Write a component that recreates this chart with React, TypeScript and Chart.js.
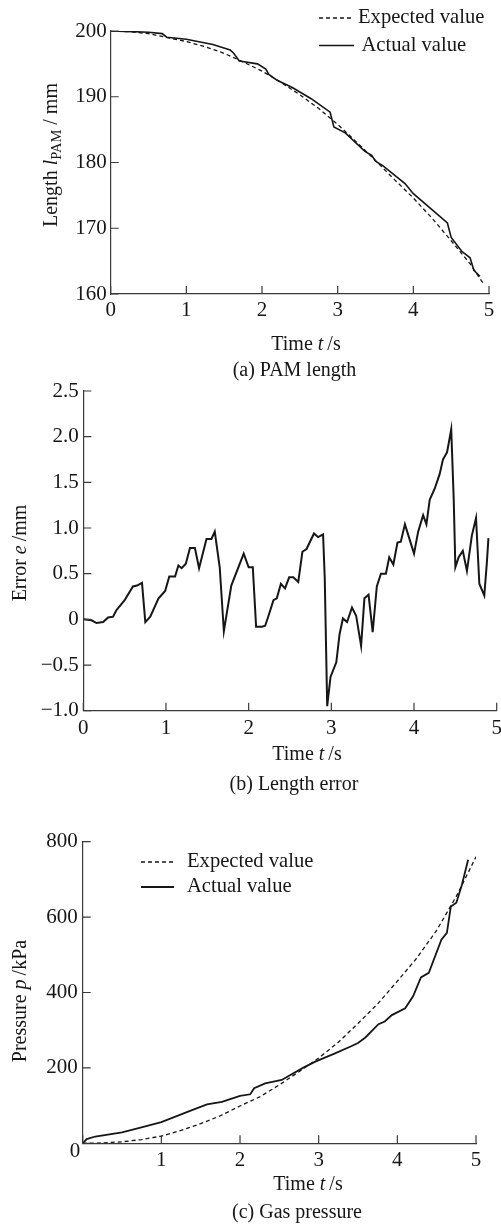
import React, { useEffect, useRef } from "react";
import { Chart, registerables } from "chart.js";

Chart.register(...registerables);

const W = 501;
const SERIF = '"Liberation Serif", "Times New Roman", Times, serif';
const INK = "#161616";
const AXIS = "#3a3a3a";

// ---------- (a) PAM length ----------
const lenExpT = [0, 0.25, 0.5, 0.75, 1.0, 1.25, 1.5, 1.75, 2.0, 2.25, 2.5, 2.75, 3.0, 3.25, 3.5, 3.75, 4.0, 4.25, 4.5, 4.75, 4.93];
const lenExpV = [200.0, 199.9, 199.6, 199.0, 198.4, 197.6, 196.6, 195.3, 193.9, 192.2, 190.3, 188.2, 185.8, 183.1, 180.3, 177.4, 174.6, 171.5, 168.1, 164.6, 161.5];
const lenActT = [0, 0.3, 0.5, 0.68, 0.74, 1.0, 1.2, 1.35, 1.58, 1.62, 1.7, 1.94, 2.05, 2.09, 2.2, 2.4, 2.65, 2.9, 2.95, 3.1, 3.36, 3.45, 3.5, 3.6, 3.89, 4.0, 4.25, 4.45, 4.5, 4.64, 4.75, 4.8, 4.88];
const lenActV = [200.0, 199.9, 199.8, 199.6, 199.05, 198.75, 198.3, 197.95, 197.1, 196.7, 195.45, 195.0, 194.2, 193.4, 192.5, 191.4, 189.7, 187.65, 185.4, 184.5, 181.7, 181.1, 180.2, 179.5, 176.8, 175.25, 172.8, 170.8, 168.6, 166.5, 165.5, 163.6, 162.7];

// ---------- (b) Length error ----------
const errT = [0, 0.10, 0.16, 0.24, 0.30, 0.36, 0.40, 0.50, 0.60, 0.65,
  0.71, 0.75, 0.81, 0.91, 0.99, 1.04, 1.11, 1.15, 1.19, 1.24,
  1.29, 1.35, 1.40, 1.49, 1.55, 1.59, 1.65, 1.70, 1.79, 1.94,
  2.00, 2.05, 2.09, 2.16, 2.20, 2.24, 2.30, 2.34, 2.39, 2.44,
  2.49, 2.54, 2.60, 2.65, 2.70, 2.79, 2.84, 2.90, 2.92, 2.93,
  2.95, 2.99, 3.06, 3.10, 3.14, 3.19, 3.25, 3.30, 3.36, 3.40,
  3.45, 3.50, 3.55, 3.60, 3.66, 3.70, 3.75, 3.80, 3.84, 3.89,
  4.00, 4.05, 4.11, 4.15, 4.19, 4.25, 4.31, 4.35, 4.40, 4.45,
  4.48, 4.50, 4.54, 4.59, 4.64, 4.70, 4.75, 4.79, 4.85, 4.88,
  4.90];
const errV = [0, -0.01, -0.04, -0.03, 0.02, 0.03, 0.10, 0.21, 0.36, 0.37,
  0.40, -0.03, 0.03, 0.23, 0.31, 0.47, 0.47, 0.59, 0.56, 0.61,
  0.78, 0.78, 0.56, 0.88, 0.88, 0.96, 0.57, -0.13, 0.37, 0.72,
  0.57, 0.57, -0.08, -0.08, -0.07, 0.04, 0.21, 0.23, 0.39, 0.34,
  0.46, 0.46, 0.41, 0.74, 0.77, 0.94, 0.90, 0.93, 0.46, -0.01,
  -0.95, -0.63, -0.47, -0.16, 0.01, -0.03, 0.13, 0.04, -0.29, 0.23,
  0.27, -0.14, 0.36, 0.50, 0.50, 0.68, 0.60, 0.84, 0.85, 1.04,
  0.72, 0.96, 1.14, 1.04, 1.31, 1.43, 1.59, 1.75, 1.83, 2.08,
  1.32, 0.57, 0.68, 0.75, 0.53, 0.92, 1.11, 0.39, 0.26, 0.61,
  0.89];

// ---------- (c) Gas pressure ----------
const presExpT = [0, 0.25, 0.5, 0.75, 1.0, 1.25, 1.5, 1.75, 2.0, 2.25, 2.5, 2.75, 3.0, 3.25, 3.5, 3.75, 4.0, 4.25, 4.5, 4.75, 5.0];
const presExpV = [0, 1, 4, 10, 19, 34, 52, 73, 99, 123, 155, 190, 226, 268, 318, 370, 430, 492, 565, 655, 760];
const presActT = [0, 0.05, 0.16, 0.5, 0.71, 1.0, 1.34, 1.58, 1.77, 2.0, 2.13, 2.18, 2.32, 2.53, 2.64, 2.8, 2.95, 3.2, 3.42, 3.5, 3.59, 3.76, 3.84, 3.93, 4.1, 4.2, 4.3, 4.4, 4.56, 4.63, 4.68, 4.75, 4.82, 4.9];
const presActV = [0, 11, 18, 29, 40, 56, 84, 103, 110, 126, 130, 146, 159, 168, 181, 200, 216, 238, 258, 266, 280, 316, 323, 340, 358, 390, 440, 452, 540, 558, 628, 638, 685, 752];

// ---------- tick ranges ----------
const timeRange = [0, 5, 1];
const lenRange = [160, 200, 10];
const errRange = [-1, 2.5, 0.5];
const presRange = [0, 800, 200];

const legendLabels = ["Expected value", "Actual value"];

type Seg = { text: string; italic?: boolean; size?: number; dy?: number };

function fontOf(s: Seg) {
  return `${s.italic ? "italic " : ""}${s.size ?? 20}px ${SERIF}`;
}

function drawRich(ctx: CanvasRenderingContext2D, segs: Seg[], x: number, y: number, align: "center" | "left") {
  const widths = segs.map((s) => {
    ctx.font = fontOf(s);
    return ctx.measureText(s.text).width;
  });
  const total = widths.reduce((a, b) => a + b, 0);
  let cx = align === "center" ? x - total / 2 : x;
  ctx.textAlign = "left";
  segs.forEach((s, i) => {
    ctx.font = fontOf(s);
    ctx.fillText(s.text, cx, y + (s.dy ?? 0));
    cx += widths[i];
  });
}

function drawRotated(ctx: CanvasRenderingContext2D, segs: Seg[], baseX: number, cy: number) {
  ctx.save();
  ctx.translate(baseX, cy);
  ctx.rotate(-Math.PI / 2);
  ctx.textBaseline = "alphabetic";
  drawRich(ctx, segs, 0, 0, "center");
  ctx.restore();
}

function hline(ctx: CanvasRenderingContext2D, x1: number, x2: number, y: number, w: number, dash: number[]) {
  ctx.save();
  ctx.strokeStyle = INK;
  ctx.lineWidth = w;
  ctx.setLineDash(dash);
  ctx.beginPath();
  ctx.moveTo(x1, y);
  ctx.lineTo(x2, y);
  ctx.stroke();
  ctx.restore();
}

function pts(ts: number[], vs: number[]) {
  return ts.map((t, i) => ({ x: t, y: vs[i] }));
}

const DASH = [4, 3];

function solidSet(label: string, ts: number[], vs: number[], w: number) {
  return { label, data: pts(ts, vs), borderColor: INK, borderWidth: w, pointRadius: 0, fill: false, tension: 0 };
}
function dashedSet(label: string, ts: number[], vs: number[], w: number) {
  return { label, data: pts(ts, vs), borderColor: INK, borderWidth: w, borderDash: DASH, pointRadius: 0, fill: false, tension: 0 };
}

const timeTitle: Seg[] = [{ text: "Time " }, { text: "t", italic: true }, { text: "\u2009/s" }];
const LEG = 20.6;

type Area = { left: number; top: number; right: number; bottom: number };
type AxisSpec = { range: number[]; pad: number; label?: (v: number) => string };
type Spec = {
  top: number;
  height: number;
  area: Area;
  x: AxisSpec;
  y: AxisSpec;
  datasets: any[];
  decorate: (ctx: CanvasRenderingContext2D) => void;
};

const specA: Spec = {
  top: 0,
  height: 385,
  area: { left: 110.7, top: 31, right: 489, bottom: 294 },
  x: { range: timeRange, pad: 3.5 },
  y: { range: lenRange, pad: 4 },
  datasets: [
    solidSet(legendLabels[1], lenActT, lenActV, 1.6),
    dashedSet(legendLabels[0], lenExpT, lenExpV, 1.3),
  ],
  decorate(ctx) {
    drawRotated(ctx, [
      { text: "Length " },
      { text: "l", italic: true },
      { text: "PAM", size: 14.5, dy: 4 },
      { text: " / mm" },
    ], 56.7, 155);
    ctx.textBaseline = "middle";
    drawRich(ctx, timeTitle, 306, 344.5, "center");
    drawRich(ctx, [{ text: "(a) PAM length" }], 294.5, 370.5, "center");
    hline(ctx, 319, 354, 18, 1.3, DASH);
    hline(ctx, 319, 354, 45.5, 1.6, []);
    ctx.textBaseline = "middle";
    drawRich(ctx, [{ text: legendLabels[0], size: LEG }], 358, 18, "left");
    drawRich(ctx, [{ text: legendLabels[1], size: LEG }], 361.5, 45.5, "left");
  },
};

const specB: Spec = {
  top: 370,
  height: 430,
  area: { left: 83.3, top: 21, right: 496.7, bottom: 340.7 },
  x: { range: timeRange, pad: 5.5 },
  y: {
    range: errRange,
    pad: 4.5,
    label: (v) => (Math.abs(v) < 1e-9 ? "0" : (v < 0 ? "\u2212" : "") + Math.abs(v).toFixed(1)),
  },
  datasets: [solidSet("Error", errT, errV, 2.0)],
  decorate(ctx) {
    drawRotated(ctx, [
      { text: "Error " },
      { text: "e", italic: true },
      { text: "\u2009/mm" },
    ], 26, 183);
    ctx.textBaseline = "middle";
    drawRich(ctx, timeTitle, 307, 385, "center");
    drawRich(ctx, [{ text: "(b) Length error" }], 294, 415, "center");
  },
};

const specC: Spec = {
  top: 800,
  height: 424,
  area: { left: 82.7, top: 41.7, right: 476, bottom: 343.3 },
  x: { range: timeRange, pad: 4.5, label: (v) => (v === 0 ? "" : String(v)) },
  y: { range: presRange, pad: 5, label: (v) => (v === 0 ? "" : String(v)) },
  datasets: [
    solidSet(legendLabels[1], presActT, presActV, 1.8),
    dashedSet(legendLabels[0], presExpT, presExpV, 1.3),
  ],
  decorate(ctx) {
    drawRotated(ctx, [
      { text: "Pressure " },
      { text: "p", italic: true },
      { text: "\u2009/kPa" },
    ], 26, 201);
    ctx.textBaseline = "middle";
    drawRich(ctx, [{ text: "0", size: 21 }], 75, 351, "center");
    drawRich(ctx, timeTitle, 308, 384.5, "center");
    drawRich(ctx, [{ text: "(c) Gas pressure" }], 297, 412.5, "center");
    hline(ctx, 141, 174, 62, 1.3, DASH);
    hline(ctx, 141, 174, 87, 1.8, []);
    ctx.textBaseline = "middle";
    drawRich(ctx, [{ text: legendLabels[0], size: LEG }], 187, 62, "left");
    drawRich(ctx, [{ text: legendLabels[1], size: LEG }], 187, 87, "left");
  },
};

function Panel({ spec }: { spec: Spec }) {
  const ref = useRef<HTMLCanvasElement>(null);
  useEffect(() => {
    const canvas = ref.current;
    if (!canvas) return;
    const { area, height } = spec;
    const tickFont = { family: SERIF, size: 21, lineHeight: 1.2 };
    const decor = {
      id: "decor",
      afterDraw(chart: any) {
        const ctx: CanvasRenderingContext2D = chart.ctx;
        const ca = chart.chartArea;
        const xs = chart.scales.x;
        const ys = chart.scales.y;
        ctx.save();
        ctx.strokeStyle = AXIS;
        ctx.lineWidth = 1.2;
        ctx.setLineDash([]);
        ctx.beginPath();
        xs.ticks.forEach((t: any) => {
          const px = xs.getPixelForValue(t.value);
          ctx.moveTo(px, ca.bottom);
          ctx.lineTo(px, ca.bottom - 8);
        });
        ys.ticks.forEach((t: any) => {
          const py = ys.getPixelForValue(t.value);
          ctx.moveTo(ca.left, py);
          ctx.lineTo(ca.left + 8, py);
        });
        ctx.stroke();
        ctx.fillStyle = INK;
        spec.decorate(ctx);
        ctx.restore();
      },
    };
    const fmt = (ax: AxisSpec) => (v: any) => (ax.label ? ax.label(Number(v)) : String(v));
    const chart = new Chart(canvas, {
      type: "line",
      data: { datasets: spec.datasets },
      options: {
        responsive: false,
        animation: false,
        devicePixelRatio: 1,
        events: [],
        layout: { padding: { left: 0, top: area.top, right: W - area.right, bottom: 0 } },
        plugins: { legend: { display: false }, tooltip: { enabled: false } },
        elements: { point: { radius: 0 }, line: { tension: 0 } },
        scales: {
          x: {
            type: "linear",
            min: spec.x.range[0],
            max: spec.x.range[1],
            ticks: {
              stepSize: spec.x.range[2],
              autoSkip: false,
              maxRotation: 0,
              font: tickFont,
              color: INK,
              padding: spec.x.pad,
              callback: fmt(spec.x),
            },
            grid: { display: false, drawTicks: false },
            border: { display: true, color: AXIS, width: 1.2 },
            afterFit: (s: any) => {
              s.height = height - area.bottom;
              s.paddingLeft = 0;
              s.paddingRight = 0;
            },
          },
          y: {
            type: "linear",
            min: spec.y.range[0],
            max: spec.y.range[1],
            ticks: {
              stepSize: spec.y.range[2],
              autoSkip: false,
              font: tickFont,
              color: INK,
              padding: spec.y.pad,
              callback: fmt(spec.y),
            },
            grid: { display: false, drawTicks: false },
            border: { display: true, color: AXIS, width: 1.2 },
            afterFit: (s: any) => {
              s.width = area.left;
              s.paddingTop = 0;
              s.paddingBottom = 0;
            },
          },
        },
      } as any,
      plugins: [decor],
    });
    return () => chart.destroy();
  }, [spec]);
  return (
    <canvas
      ref={ref}
      width={W}
      height={spec.height}
      style={{ position: "absolute", left: 0, top: spec.top, width: W, height: spec.height }}
    />
  );
}

export default function App() {
  return (
    <div style={{ position: "absolute", left: 0, top: 0, width: W, height: 1224, background: "#ffffff", overflow: "hidden" }}>
      <Panel spec={specA} />
      <Panel spec={specB} />
      <Panel spec={specC} />
    </div>
  );
}
